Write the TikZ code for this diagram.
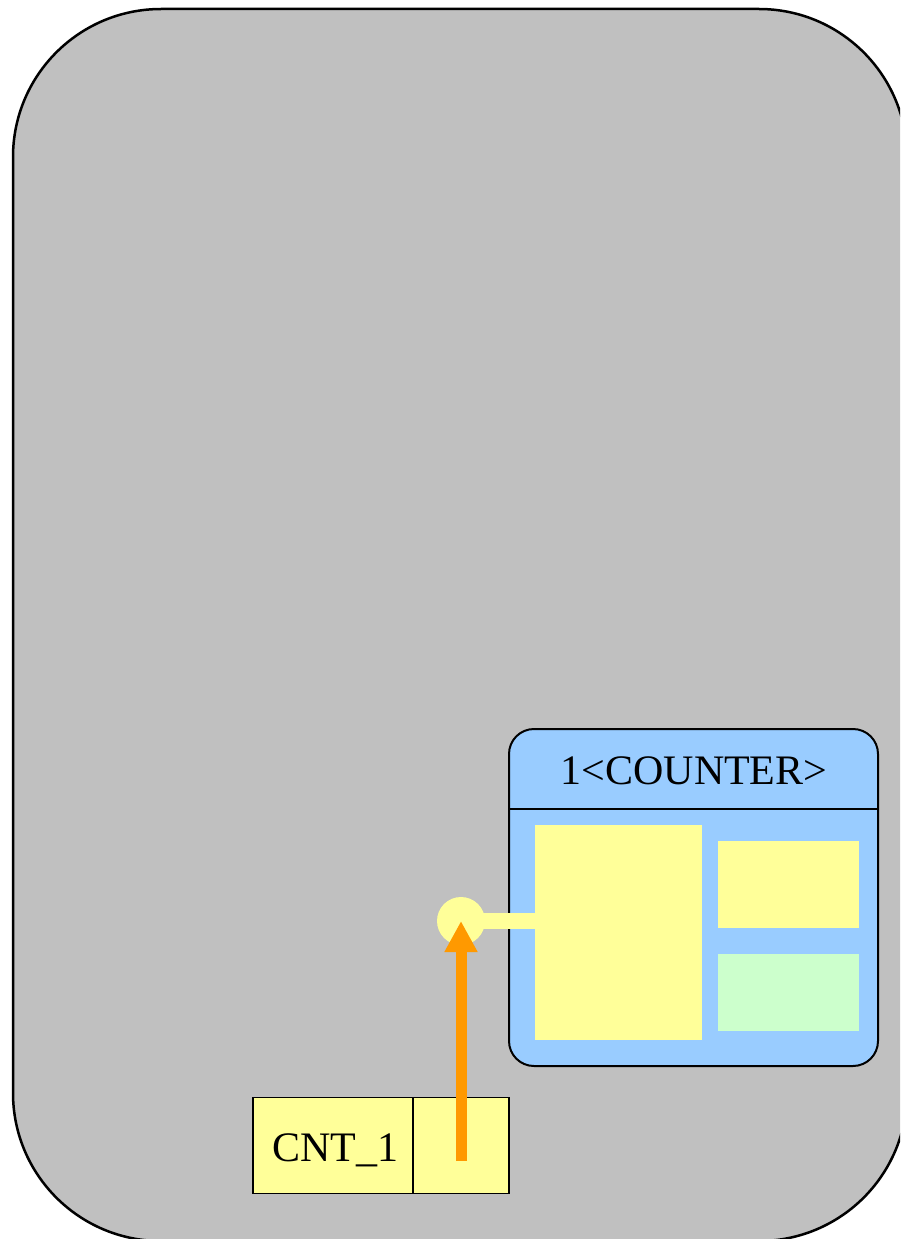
\documentclass[tikz,border=0pt]{standalone}
\usepackage{fontspec}
\setmainfont{Liberation Serif}
\usetikzlibrary{arrows.meta}
\definecolor{grayc}{HTML}{C0C0C0}
\definecolor{bluec}{HTML}{99CCFF}
\definecolor{yellowc}{HTML}{FFFF99}
\definecolor{greenc}{HTML}{CCFFCC}
\definecolor{orangec}{HTML}{FF9900}
\tikzset{
  boxfill/.style={draw=none, inner sep=0pt, outer sep=0pt, rectangle},
  cellbox/.style={draw=black, line width=1.5pt, fill=yellowc, inner sep=0pt, outer sep=0pt, rectangle},
  bigfont/.style={font=\fontsize{42}{50}\selectfont},
}
\begin{document}
\begin{tikzpicture}[x=1pt,y=-1pt]
\useasboundingbox (0,0) rectangle (900,1239);
\begin{scope}
\clip (0,0) rectangle (900,1239);
% outer container
\draw[fill=grayc, line width=2.5pt, rounded corners=148pt] (13,9) rectangle (907,1241);
\end{scope}
% counter box
\node[draw=black, line width=2pt, fill=bluec, rounded corners=25pt, inner sep=0pt, outer sep=0pt,
      minimum width=369pt, minimum height=337pt] (counter) at (693.5,897.5) {};
\coordinate (hl) at (509,809);
\coordinate (hr) at (878,809);
\draw[line width=1.5pt] (hl) -- (hr);
\node[bigfont, anchor=base] (title) at (694,784) {1<COUNTER>};
% inner rectangles
\node[boxfill, fill=yellowc, minimum width=167pt, minimum height=215pt] (body) at (618.5,932.5) {};
\node[boxfill, fill=yellowc, minimum width=141pt, minimum height=87pt] (slotA) at (788.5,884.5) {};
\node[boxfill, fill=greenc, minimum width=141pt, minimum height=77pt] (slotB) at (788.5,992.5) {};
% CNT_1 box
\node[cellbox, minimum width=160pt, minimum height=96pt] (cntname) at (333,1145.5) {};
\node[bigfont, anchor=base] (cntlabel) at (335,1161) {CNT\_1};
\node[cellbox, minimum width=96pt, minimum height=96pt] (cntport) at (461,1145.5) {};
% connector dot and line
\node[circle, fill=yellowc, draw=none, minimum size=48pt, inner sep=0pt] (dot) at (461,921) {};
\draw[yellowc, line width=16pt] (dot.center) -- (dot.center -| body.west);
% orange arrow
\coordinate (src) at (461,1161);
\draw[orangec, line width=11pt, -{Triangle[width=31pt,length=31pt]}] (src) -- (dot.center);
\end{tikzpicture}
\end{document}
